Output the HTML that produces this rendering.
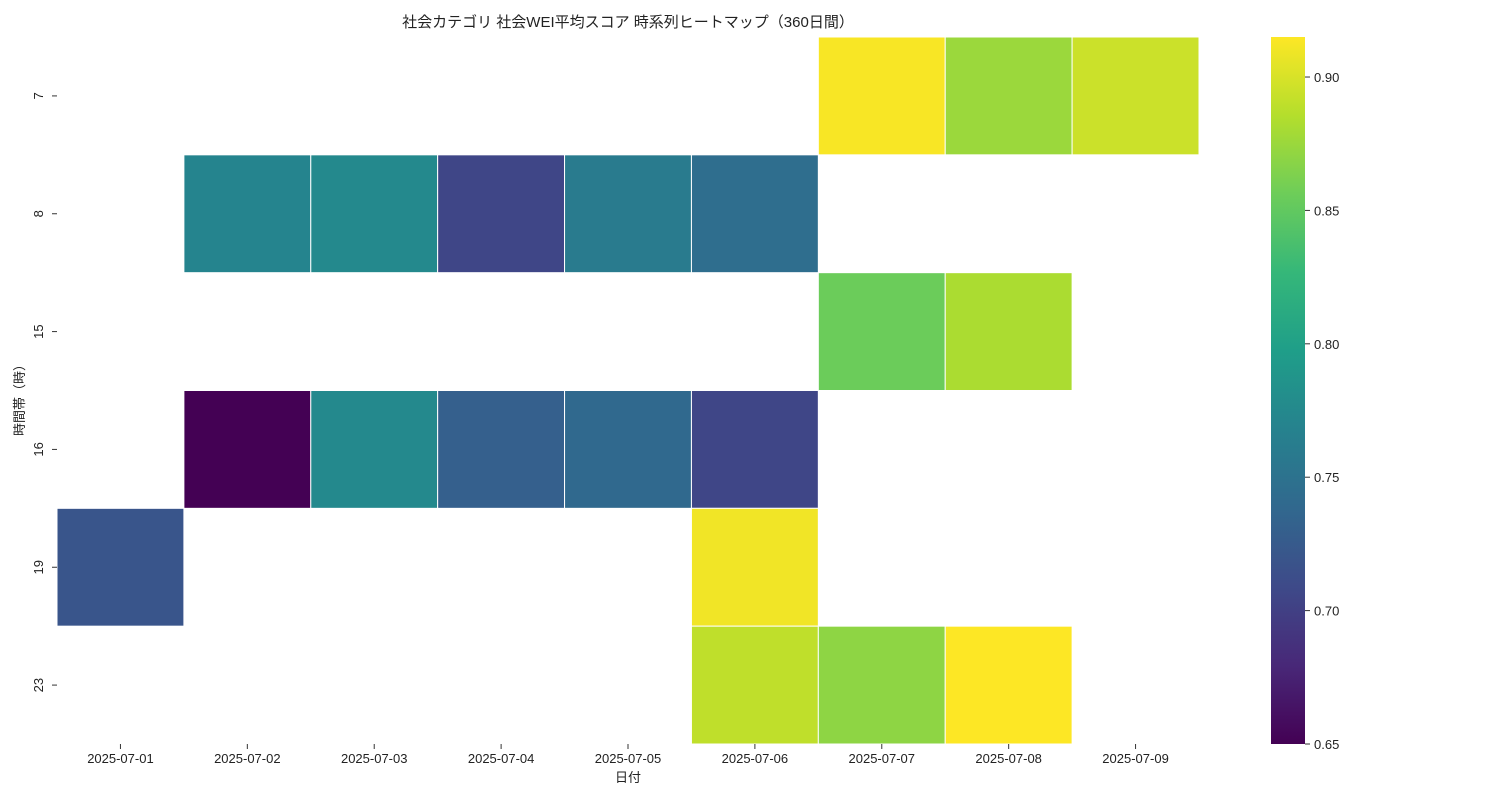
<!DOCTYPE html>
<html><head><meta charset="utf-8"><style>
body{margin:0;background:#fff;}
svg text{font-family:"Liberation Sans","Noto Sans CJK JP",sans-serif;fill:#222;}
</style></head><body>
<svg id="chart" width="1500" height="800" xmlns="http://www.w3.org/2000/svg">
<text x="628" y="27" font-size="15" text-anchor="middle">社会カテゴリ 社会WEI平均スコア 時系列ヒートマップ（360日間）</text>
<g id="cells"></g><g id="xaxis"></g><g id="yaxis"></g><g id="cbar"></g>
<text x="628" y="782" font-size="13" text-anchor="middle">日付</text>
<text transform="translate(24,397) rotate(-90)" font-size="13" text-anchor="middle">時間帯（時）</text>
</svg>
<script>
const dates=["2025-07-01","2025-07-02","2025-07-03","2025-07-04","2025-07-05","2025-07-06","2025-07-07","2025-07-08","2025-07-09"];
const hours=["7","8","15","16","19","23"];
const values=[
[null,null,null,null,null,null,0.913,0.875,0.895],
[null,0.770,0.775,0.705,0.760,0.745,null,null,null],
[null,null,null,null,null,null,0.855,0.882,null],
[null,0.650,0.775,0.730,0.740,0.705,null,null,null],
[0.720,null,null,null,null,0.910,null,null,null],
[null,null,null,null,null,0.890,0.870,0.915,null]];
const cbTicks=[0.65,0.70,0.75,0.80,0.85,0.90];
const vmin=0.65,vmax=0.915;
const X0=57,X1=1199,Y0=37,Y1=744;
const cw=(X1-X0)/dates.length,ch=(Y1-Y0)/hours.length;
const xs=i=>X0+i*cw, ys=j=>Y0+j*ch;
const vir=[[68,1,84],[72,40,120],[62,74,137],[49,104,142],[38,130,142],[31,158,137],[53,183,121],[109,205,89],[180,222,44],[253,231,37]];
function color(v){let t=Math.max(0,Math.min(1,(v-vmin)/(vmax-vmin)))*(vir.length-1);let i=Math.min(Math.floor(t),vir.length-2),f=t-i;
const c=vir[i].map((a,k)=>Math.round(a+(vir[i+1][k]-a)*f));return `rgb(${c})`;}
const NS="http://www.w3.org/2000/svg";
function mk(tag,attrs,parent,txt){const e=document.createElementNS(NS,tag);for(const k in attrs)e.setAttribute(k,attrs[k]);if(txt!==undefined)e.textContent=txt;parent.appendChild(e);return e;}
const cells=document.getElementById('cells');
values.forEach((row,j)=>row.forEach((v,i)=>{if(v===null)return;
const r=mk('rect',{x:xs(i),y:ys(j),width:cw,height:ch,fill:color(v),stroke:'#fff','stroke-width':1},cells);

}));
const xa=document.getElementById('xaxis');
dates.forEach((d,i)=>{const cx=xs(i)+cw/2;
mk('line',{x1:cx,x2:cx,y1:Y1,y2:Y1+5,stroke:'#333'},xa);
const t=mk('text',{x:cx,y:Y1+19,'font-size':13,'text-anchor':'middle'},xa,d);

});
const ya=document.getElementById('yaxis');
hours.forEach((h,j)=>{const cy=ys(j)+ch/2;
mk('line',{x1:X0-5,x2:X0,y1:cy,y2:cy,stroke:'#333'},ya);
const t=mk('text',{transform:`translate(43,${cy}) rotate(-90)`,'font-size':13,'text-anchor':'middle'},ya,h);

});
const cb=document.getElementById('cbar');
const CX=1271,CW=34;const cy=v=>Y1-(v-vmin)/(vmax-vmin)*(Y1-Y0);
const defs=mk('defs',{},cb);const g=mk('linearGradient',{id:'vg',x1:0,y1:1,x2:0,y2:0},defs);
vir.forEach((c,k)=>mk('stop',{offset:k/(vir.length-1),'stop-color':`rgb(${c})`},g));
const bar=mk('rect',{x:CX,y:Y0,width:CW,height:Y1-Y0,fill:'url(#vg)'},cb);


cbTicks.forEach(v=>{const y=cy(v);mk('line',{x1:CX+CW,x2:CX+CW+5,y1:y,y2:y,stroke:'#333'},cb);
const t=mk('text',{x:CX+CW+9,y:y+5,'font-size':13},cb,v.toFixed(2));

});
</script>
</body></html>
